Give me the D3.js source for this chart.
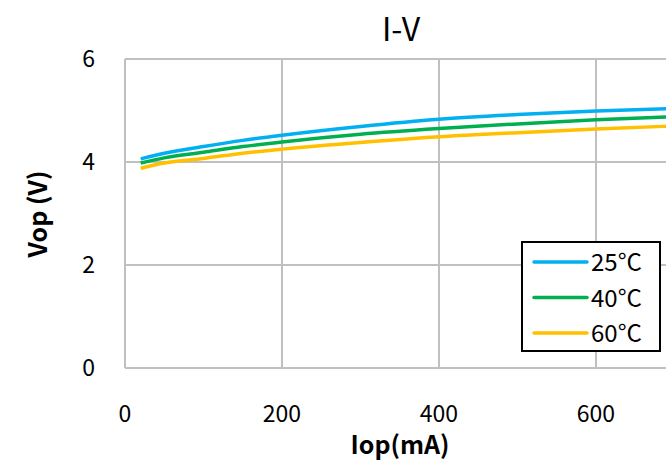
<!DOCTYPE html>
<html>
<head>
<meta charset="utf-8">
<script src="https://cdn.jsdelivr.net/npm/d3@7"></script>
<style>
  body { margin: 0; background: #fff; overflow: hidden; }
  svg { display: block; font-family: "Noto Sans CJK KR", "Noto Sans", sans-serif; }
</style>
</head>
<body>
<svg width="666" height="460"></svg>
<script>
// values
var iop = [20, 50, 100, 150, 200, 300, 400, 500, 600, 700];
var v25 = [4.06, 4.17, 4.30, 4.42, 4.52, 4.69, 4.83, 4.92, 4.99, 5.04];
var v40 = [3.98, 4.08, 4.19, 4.30, 4.39, 4.54, 4.65, 4.74, 4.82, 4.88];
var v60 = [3.88, 3.98, 4.07, 4.17, 4.25, 4.38, 4.49, 4.57, 4.64, 4.70];
var seriesNames = ["25°C", "40°C", "60°C"];
var xTicks = [0, 200, 400, 600];
var yTicks = [0, 2, 4, 6];

var colors = ["#00B0F0", "#00B050", "#FFC000"];
var series = [v25, v40, v60];

var svg = d3.select("svg");
var x = d3.scaleLinear().domain([0, 800]).range([125, 753]);
var y = d3.scaleLinear().domain([0, 6]).range([368, 59]);

// grid
var grid = svg.append("g").attr("stroke", "#C0C0C0").attr("stroke-width", 2);
grid.selectAll(".gx").data(xTicks).enter().append("line")
  .attr("x1", function(d) { return x(d); }).attr("x2", function(d) { return x(d); })
  .attr("y1", y(0)).attr("y2", y(6));
grid.selectAll(".gy").data(yTicks).enter().append("line")
  .attr("x1", x(0)).attr("x2", x(800))
  .attr("y1", function(d) { return y(d); }).attr("y2", function(d) { return y(d); });

// tick labels
svg.append("g").selectAll("text").data(yTicks).enter().append("text")
  .attr("x", 95).attr("y", function(d) { return y(d) + 8; })
  .attr("text-anchor", "end").attr("font-size", 23)
  .text(function(d) { return d; });
svg.append("g").selectAll("text").data(xTicks).enter().append("text")
  .attr("x", function(d) { return x(d); }).attr("y", 422)
  .attr("text-anchor", "middle").attr("font-size", 23)
  .text(function(d) { return d; });

// lines
var line = d3.line()
  .x(function(d, i) { return x(iop[i]); })
  .y(function(d) { return y(d); })
  .curve(d3.curveMonotoneX);
svg.append("g").selectAll("path").data(series).enter().append("path")
  .attr("d", line)
  .attr("fill", "none")
  .attr("stroke", function(d, i) { return colors[i]; })
  .attr("stroke-width", 3.5);

// titles
svg.append("text").attr("x", 401).attr("y", 41).attr("text-anchor", "middle")
  .attr("font-size", 32).text("I-V");
svg.append("text").attr("x", 400).attr("y", 454).attr("text-anchor", "middle")
  .attr("font-size", 25).attr("font-weight", "bold").text("Iop(mA)");
svg.append("text").attr("transform", "translate(47,214) rotate(-90)")
  .attr("text-anchor", "middle").attr("font-size", 25).attr("font-weight", "bold")
  .text("Vop (V)");

// legend
var lg = svg.append("g");
lg.append("rect").attr("x", 522).attr("y", 242).attr("width", 138).attr("height", 109)
  .attr("fill", "#fff").attr("stroke", "#000").attr("stroke-width", 2);
var row = lg.selectAll(".row").data(seriesNames).enter().append("g")
  .attr("transform", function(d, i) { return "translate(0," + (262 + i * 35.5) + ")"; });
row.append("line").attr("x1", 534).attr("x2", 587).attr("y1", 0).attr("y2", 0)
  .attr("stroke", function(d, i) { return colors[i]; }).attr("stroke-width", 3.5)
  .attr("stroke-linecap", "round");
row.append("text").attr("x", 591).attr("y", 9).attr("font-size", 24)
  .text(function(d) { return d; });
</script>
</body>
</html>
